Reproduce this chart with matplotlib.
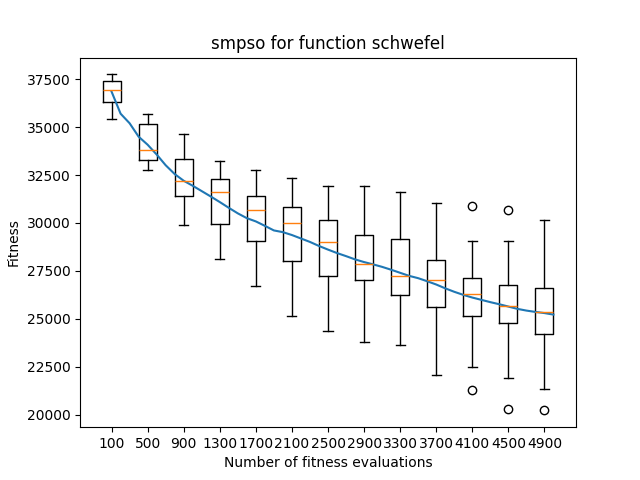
import matplotlib
matplotlib.use('Agg')
import matplotlib.pyplot as plt

# evaluations at which the boxes were sampled
box_evals = [100, 500, 900, 1300, 1700, 2100, 2500, 2900, 3300, 3700, 4100, 4500, 4900]

# box statistics
medians = [36913, 33781, 32163, 31640, 30701, 30022, 28993, 27835, 27256, 27047, 26316, 25653, 25355]
q1s = [36286, 33259, 31432, 29970, 29040, 27991, 27256, 27010, 26264, 25601, 25131, 24802, 24192]
q3s = [37383, 35138, 33311, 32267, 31432, 30810, 30179, 29349, 29188, 28091, 27151, 26786, 26629]
whis_lo = [35400, 32752, 29918, 28143, 26734, 25131, 24385, 23811, 23617, 22051, 22506, 21931, 21357]
whis_hi = [37748, 35675, 34616, 33207, 32752, 32330, 31917, 31917, 31640, 31066, 29083, 29083, 30179]
fliers = [[], [], [], [], [], [], [], [], [], [], [30873, 21305], [30701, 20277], [20224]]

# mean fitness curve, every 100 evaluations
curve_evals = list(range(100, 5001, 100))
curve_fitness = [36850, 35700, 35200, 34500, 34080, 33570, 33010, 32550, 32200, 31940,
                 31660, 31380, 31090, 30790, 30500, 30250, 30080, 29850, 29610, 29520,
                 29370, 29190, 29010, 28800, 28610, 28430, 28270, 28100, 27960, 27840,
                 27710, 27560, 27400, 27240, 27120, 26960, 26790, 26590, 26410, 26250,
                 26110, 25990, 25870, 25760, 25640, 25520, 25430, 25360, 25300, 25220]

stats = []
for i, e in enumerate(box_evals):
    stats.append({
        'med': medians[i], 'q1': q1s[i], 'q3': q3s[i],
        'whislo': whis_lo[i], 'whishi': whis_hi[i],
        'fliers': fliers[i], 'label': str(e),
    })

fig, ax = plt.subplots(figsize=(6.4, 4.8), dpi=100)
ax.bxp(stats)

# map evaluations onto box positions (box 1 = 100 evals, step 400)
step = box_evals[1] - box_evals[0]
curve_x = [1 + (e - box_evals[0]) / step for e in curve_evals]
ax.plot(curve_x, curve_fitness)

# old-style autoscale: box edges (width 0.5) plus 5% margins
n = len(box_evals)
lo, hi = 0.75, n + 0.25
pad = 0.05 * (hi - lo)
ax.set_xlim(lo - pad, hi + pad)

ax.set_title('smpso for function schwefel')
ax.set_xlabel('Number of fitness evaluations')
ax.set_ylabel('Fitness')

plt.savefig('out.png')
